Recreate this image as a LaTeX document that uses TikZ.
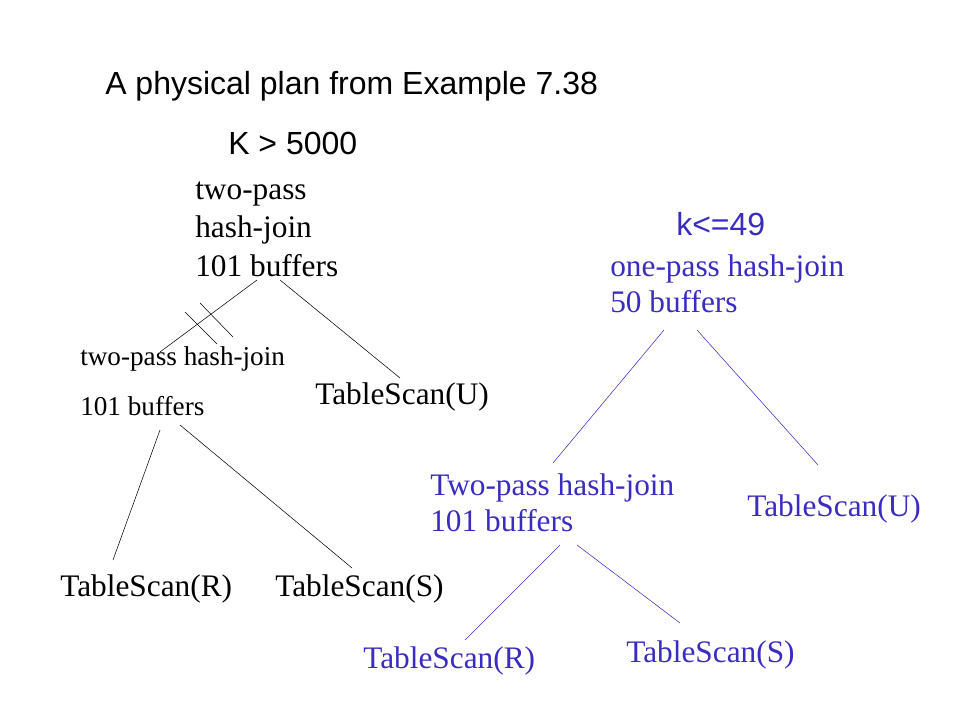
\documentclass[tikz,border=0pt]{standalone}
\usepackage{fontspec}
\setmainfont{Liberation Serif}
\setsansfont{Liberation Sans}
\usepackage{tikz}
\usetikzlibrary{calc}
\definecolor{planblue}{RGB}{58,44,190}

\begin{document}
\begin{tikzpicture}[x=0.75pt,y=-0.75pt,thin,
  title node/.style={anchor=base west,inner sep=0,font=\sffamily\fontsize{24}{29}\selectfont},
  op node/.style={anchor=north west,inner sep=0,align=left,font=\fontsize{23.5}{29}\selectfont},
  small node/.style={anchor=north west,inner sep=0,align=left,font=\fontsize{20.4}{37.5}\selectfont},
  scan node/.style={anchor=base west,inner sep=0,font=\fontsize{23.5}{29}\selectfont},
  blue node/.style={text=planblue,font=\fontsize{23.5}{27}\selectfont}]

  \useasboundingbox (0,0) rectangle (960,720);

  % left plan
  \node[title node] (title) at (105,95) {A physical plan from Example 7.38};
  \node[title node] (kbig) at (228,155) {K > 5000};
  \node[op node] (root) at (195,172) {\strut two-pass\\hash-join\\101 buffers};
  \node[small node] (join) at (80,330) {\strut two-pass hash-join\\101 buffers};
  \node[scan node] (scanU) at (315,404) {TableScan(U)};
  \node[scan node] (scanR) at (60,596) {TableScan(R)};
  \node[scan node] (scanS) at (275,596) {TableScan(S)};

  \path
    ($(root.north west)+(62,108)$) edge ($(join.north west)+(80,22)$)
    ($(root.north west)+(85,108)$) edge ($(scanU.base west)+(85,-26)$)
    ($(join.north west)+(80,100)$) edge ($(scanR.base west)+(53,-36)$)
    ($(join.north west)+(100,95)$) edge ($(scanS.base west)+(77,-28)$);
  % the two strokes across the left edge
  \draw (185,312) -- (217,344);
  \draw (200,303) -- (233,337);

  % right plan
  \node[title node,text=planblue] (ksmall) at (676,236) {k<=49};
  \node[op node,blue node] (root2) at (610,251) {\strut one-pass hash-join\\50 buffers};
  \node[op node,blue node] (join2) at (430,470) {\strut Two-pass hash-join\\101 buffers};
  \node[scan node,blue node] (scanU2) at (747,516) {TableScan(U)};
  \node[scan node,blue node] (scanR2) at (363,668) {TableScan(R)};
  \node[scan node,blue node] (scanS2) at (626,662) {TableScan(S)};

  \path[draw=planblue]
    ($(root2.north west)+(54,79)$) edge ($(join2.north west)+(123,-7)$)
    ($(root2.north west)+(87,79)$) edge ($(scanU2.base west)+(71,-51)$)
    ($(join2.north west)+(130,75)$) edge ($(scanR2.base west)+(102,-28)$)
    ($(join2.north west)+(147,75)$) edge ($(scanS2.base west)+(54,-39)$);
\end{tikzpicture}
\end{document}
